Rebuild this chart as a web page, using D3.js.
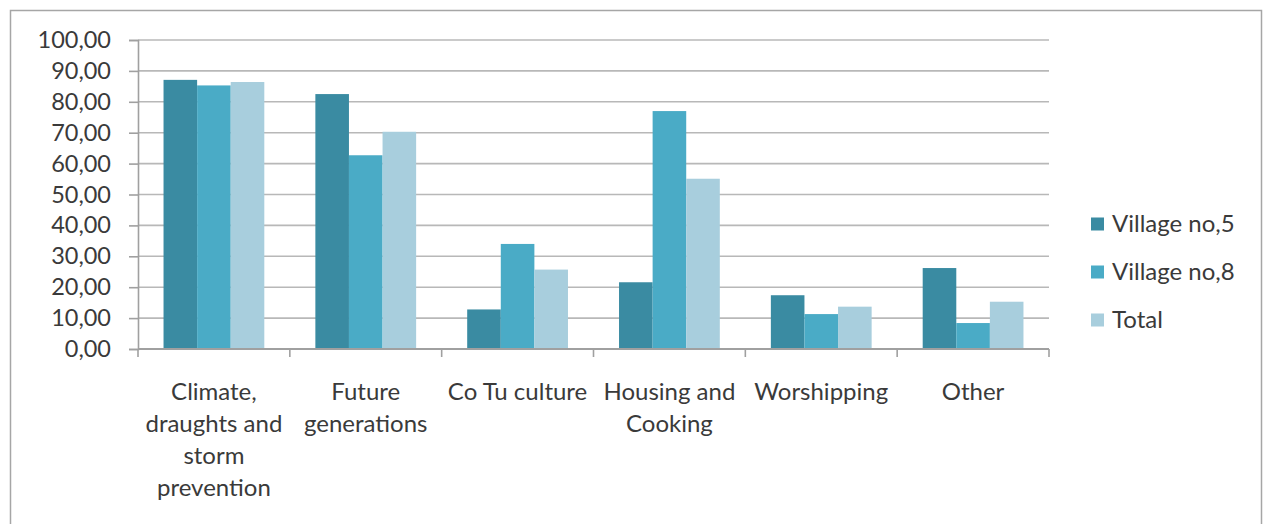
<!DOCTYPE html>
<html>
<head>
<meta charset="utf-8">
<script src="https://cdn.jsdelivr.net/npm/d3@7/dist/d3.min.js"></script>
<style>
  html, body { margin: 0; padding: 0; background: #fff; }
  svg { display: block; }
  text { font-family: Lato, "Open Sans", sans-serif; fill: #3a3a3a; }
</style>
</head>
<body>
<svg id="chart" width="1265" height="524"></svg>
<script>
// Category labels (line breaks mark where each label wraps)
const categories = [
  "Climate,\ndraughts and\nstorm\nprevention",
  "Future\ngenerations",
  "Co Tu culture",
  "Housing and\nCooking",
  "Worshipping",
  "Other"
];
const seriesNames = ["Village no,5", "Village no,8", "Total"];
const village5 = [87.1, 82.5, 12.8, 21.6, 17.4, 26.2];
const village8 = [85.3, 62.7, 34.0, 77.0, 11.3, 8.4];
const total    = [86.4, 70.3, 25.7, 55.1, 13.7, 15.3];
const yTicks = [0, 10, 20, 30, 40, 50, 60, 70, 80, 90, 100];

const colors = ["#3a8ba2", "#4aabc6", "#a8cedd"];
const seriesValues = [village5, village8, total];

const svg = d3.select("#chart");

// outer frame
svg.append("rect")
  .attr("x", 10.5).attr("y", 10.5)
  .attr("width", 1251).attr("height", 530)
  .attr("fill", "#fff").attr("stroke", "#a6a6a6").attr("stroke-width", 1.5);

const plot = { left: 138, right: 1049, top: 40, bottom: 349 };

const x0 = d3.scaleBand()
  .domain(d3.range(categories.length))
  .range([plot.left, plot.right])
  .paddingInner(0).paddingOuter(0);

const x1 = d3.scaleBand()
  .domain(d3.range(seriesNames.length))
  .range([0, x0.bandwidth()])
  .paddingInner(0)
  .paddingOuter(0.76);

const y = d3.scaleLinear().domain([0, 100]).range([plot.bottom, plot.top]);

const fmt = v => d3.format(".2f")(v).replace(".", ",");

// gridlines
svg.append("g")
  .selectAll("line")
  .data(yTicks.filter(t => t > 0))
  .join("line")
  .attr("x1", plot.left).attr("x2", plot.right)
  .attr("y1", d => y(d)).attr("y2", d => y(d))
  .attr("stroke", "#b8b8b8").attr("stroke-width", 1.6);

// bars
const groups = svg.append("g")
  .selectAll("g")
  .data(categories.map((c, i) => i))
  .join("g")
  .attr("transform", i => `translate(${x0(i)},0)`);

groups.selectAll("rect")
  .data(i => seriesValues.map((vals, s) => ({ s, v: vals[i] })))
  .join("rect")
  .attr("x", d => x1(d.s))
  .attr("width", x1.bandwidth())
  .attr("y", d => y(d.v))
  .attr("height", d => y(0) - y(d.v))
  .attr("fill", d => colors[d.s]);

// y axis
const yAxis = d3.axisLeft(y)
  .tickValues(yTicks)
  .tickSize(9)
  .tickPadding(18)
  .tickFormat(fmt);

const gy = svg.append("g")
  .attr("transform", `translate(${plot.left},0)`)
  .call(yAxis);
gy.select(".domain").attr("stroke", "#a0a0a0").attr("stroke-width", 1.6);
gy.selectAll(".tick line").attr("stroke", "#a0a0a0").attr("stroke-width", 1.6);
gy.selectAll(".tick text")
  .attr("font-size", 23.5)
  .attr("fill", "#3a3a3a")
  .style("font-family", "Lato, sans-serif");

// x axis: line along zero with ticks on the category boundaries
const boundaries = d3.range(categories.length + 1).map(i =>
  i < categories.length ? x0(i) : x0(categories.length - 1) + x0.bandwidth());
const gx = svg.append("g");
gx.append("line")
  .attr("x1", plot.left).attr("x2", plot.right)
  .attr("y1", y(0)).attr("y2", y(0))
  .attr("stroke", "#a0a0a0").attr("stroke-width", 1.8);
gx.selectAll("line.tk")
  .data(boundaries)
  .join("line")
  .attr("class", "tk")
  .attr("x1", d => d).attr("x2", d => d)
  .attr("y1", y(0)).attr("y2", y(0) + 8)
  .attr("stroke", "#a0a0a0").attr("stroke-width", 1.6);

// category labels
const labels = svg.append("g")
  .selectAll("text")
  .data(categories)
  .join("text")
  .attr("text-anchor", "middle")
  .attr("font-size", 24)
  .attr("x", (d, i) => x0(i) + x0.bandwidth() / 2)
  .attr("y", 400);
labels.selectAll("tspan")
  .data(d => d.split("\n"))
  .join("tspan")
  .attr("x", function () { return this.parentNode.getAttribute("x"); })
  .attr("dy", (d, i) => i === 0 ? 0 : 32)
  .text(d => d);

// legend
const legend = svg.append("g")
  .selectAll("g")
  .data(seriesNames)
  .join("g")
  .attr("transform", (d, i) => `translate(1091,${224 + i * 48})`);
legend.append("rect")
  .attr("x", 0).attr("y", -6.5)
  .attr("width", 13).attr("height", 13)
  .attr("fill", (d, i) => colors[i]);
legend.append("text")
  .attr("x", 21).attr("y", 0)
  .attr("dy", "0.35em")
  .attr("font-size", 24)
  .text(d => d);
</script>
</body>
</html>
